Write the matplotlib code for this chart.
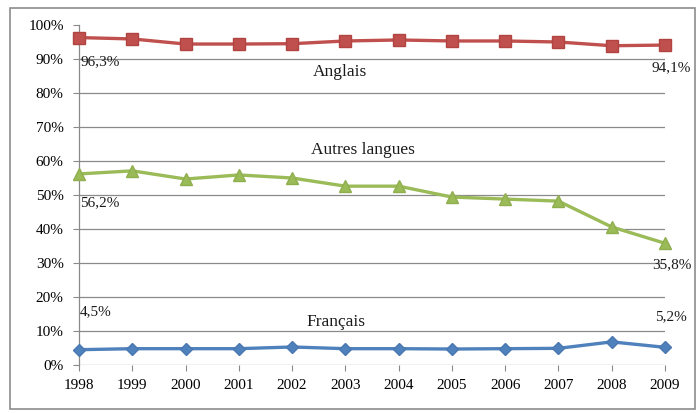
import matplotlib
matplotlib.use("Agg")
import matplotlib.pyplot as plt
from matplotlib.patches import Rectangle
from matplotlib.ticker import FuncFormatter

years = [1998, 1999, 2000, 2001, 2002, 2003, 2004, 2005, 2006, 2007, 2008, 2009]
anglais = [96.3, 95.9, 94.4, 94.4, 94.5, 95.3, 95.6, 95.3, 95.3, 95.0, 93.9, 94.1]
autres = [56.2, 57.1, 54.7, 55.9, 55.0, 52.6, 52.6, 49.4, 48.8, 48.2, 40.6, 35.8]
francais = [4.5, 4.8, 4.8, 4.8, 5.3, 4.8, 4.8, 4.7, 4.8, 4.9, 6.8, 5.2]
y_ticks = [0, 10, 20, 30, 40, 50, 60, 70, 80, 90, 100]

plt.rcParams['font.family'] = ['Liberation Serif', 'DejaVu Serif']

fig = plt.figure(figsize=(6.98, 4.13), dpi=100)
fig.patches.append(Rectangle((10 / 698, 1 - 409 / 413), 685 / 698, 401 / 413,
                             transform=fig.transFigure, fill=False,
                             edgecolor='#8c8c8c', linewidth=1.2))

ax = fig.add_axes([79 / 698, 1 - 365 / 413, 586 / 698, 340 / 413])
ax.set_xlim(1998, 2009)
ax.set_ylim(0, 100)

for v in y_ticks[:-1]:
    ax.axhline(v, color='#8a8a8a', linewidth=0.9, zorder=1)

ax.plot(years, anglais, color='#c0504d', linewidth=2.4, marker='s',
        markersize=9, markeredgecolor='#b04440', zorder=3, clip_on=False)
ax.plot(years, autres, color='#9bbb59', linewidth=2.4, marker='^',
        markersize=9, markeredgecolor='#8fae4e', zorder=3, clip_on=False)
ax.plot(years, francais, color='#4f81bd', linewidth=2.4, marker='D',
        markersize=6.5, markeredgecolor='#4a78b0', zorder=3, clip_on=False)

for s in ['top', 'right', 'bottom']:
    ax.spines[s].set_visible(False)
ax.spines['left'].set_color('#8a8a8a')
ax.spines['left'].set_linewidth(0.9)

ax.set_yticks(y_ticks)
ax.yaxis.set_major_formatter(FuncFormatter(lambda v, p: f"{int(v)}%"))
ax.set_xticks(years)
ax.tick_params(axis='y', length=4, color='#8a8a8a', labelsize=11, pad=7)
ax.tick_params(axis='x', length=4, color='#8a8a8a', labelsize=11, pad=6)

def fr(v):
    return f"{v:.1f}%".replace('.', ',')

txt = dict(fontsize=11, color='#1a1a1a', va='center')
name = dict(fontsize=12.5, color='#1a1a1a', ha='center', va='center')

ax.text(years[0] + 0.02, anglais[0] - 7.2, fr(anglais[0]), ha='left', **txt)
ax.text(years[-1] + 0.12, anglais[-1] - 6.7, fr(anglais[-1]), ha='center', **txt)
ax.text(2002.9, 86.2, "Anglais", **name)

ax.text(years[0] + 0.02, autres[0] - 8.6, fr(autres[0]), ha='left', **txt)
ax.text(years[-1] + 0.12, autres[-1] - 6.4, fr(autres[-1]), ha='center', **txt)
ax.text(2003.33, 63.3, "Autres langues", **name)

ax.text(years[0] + 0.02, francais[0] + 11.1, fr(francais[0]), ha='left', **txt)
ax.text(years[-1] + 0.12, francais[-1] + 8.9, fr(francais[-1]), ha='center', **txt)
ax.text(2002.83, 12.6, "Français", **name)

fig.savefig("out.png", dpi=100)
